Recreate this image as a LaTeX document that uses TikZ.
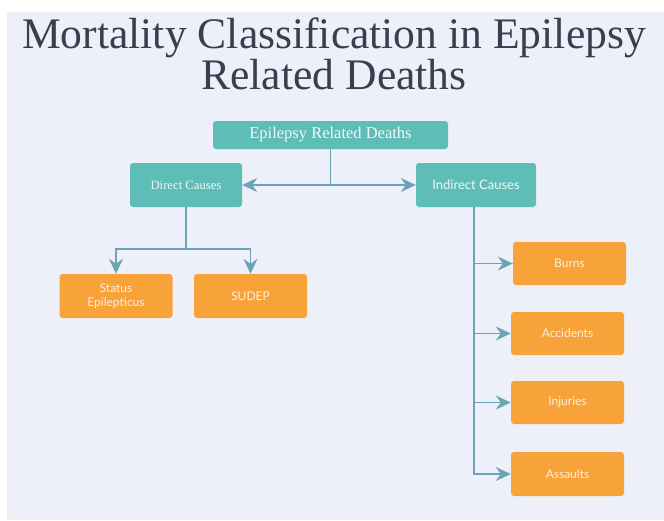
\documentclass[tikz,border=0pt]{standalone}
\usepackage{fontspec}
\setmainfont{Liberation Serif}
\newfontfamily\boxfont{Lato}
\usetikzlibrary{arrows.meta}

\definecolor{panelbg}{HTML}{EDF0F8}
\definecolor{causeteal}{HTML}{5FBDB7}
\definecolor{leaforange}{HTML}{F8A23A}
\definecolor{linkblue}{HTML}{6AA5B6}
\definecolor{titlegray}{HTML}{3B3E4F}

\tikzset{
  causebox/.style={fill=causeteal, rounded corners=3pt, text=white!90!causeteal,
    inner sep=0pt, align=center},
  leafbox/.style={fill=leaforange, rounded corners=3pt, text=white!82!leaforange,
    minimum width=113pt, minimum height=44pt, inner sep=0pt, align=center,
    font=\boxfont\fontsize{12}{14}\selectfont},
  link/.style={linkblue, line width=1.6pt},
  linkarrow/.style={link, -{Stealth[length=15pt, width=14pt, inset=5pt]}}
}

\begin{document}
\begin{tikzpicture}[x=1pt, y=-1pt]
  \useasboundingbox (0,0) rectangle (664,520);
  \fill[panelbg] (7,12) rectangle (664,520);

  % Title
  \node[titlegray, anchor=north, inner sep=0pt, align=center,
        font=\fontsize{43.6}{35}\selectfont] (title) at (334,18)
        {Mortality Classification in Epilepsy\\Related Deaths};

  % Top level
  \node[causebox, minimum width=235pt, minimum height=28pt,
        font=\fontsize{16.5}{18}\selectfont] (deaths) at (330.5,135) {Epilepsy Related Deaths};
  \node[causebox, minimum width=112pt, minimum height=44pt,
        font=\fontsize{12.7}{14}\selectfont] (direct) at (186,185) {Direct Causes};
  \node[causebox, minimum width=120pt, minimum height=44pt,
        font=\boxfont\fontsize{13}{15}\selectfont] (indirect) at (476,185) {Indirect Causes};

  % Direct causes
  \node[leafbox] (status) at (116,296) {Status\\Epilepticus};
  \node[leafbox] (sudep) at (250.5,296) {SUDEP};

  % Indirect causes
  \node[leafbox, minimum height=43pt] (burns) at (569.5,263.5) {Burns};
  \node[leafbox, minimum height=43pt] (accidents) at (567.5,333.5) {Accidents};
  \node[leafbox, minimum height=43pt] (injuries) at (567.5,402.5) {Injuries};
  \node[leafbox] (assaults) at (567.5,474) {Assaults};

  % Connectors
  \coordinate (split) at (deaths.south |- direct.east);
  \draw[link] (deaths.south) -- (split);
  \draw[linkarrow] (split) -- (direct.east);
  \draw[linkarrow] (split) -- (indirect.west);

  \coordinate (fork) at (186,249);
  \draw[link] (direct.south) -- (fork);
  \draw[linkarrow] (fork) -| (status.north);
  \draw[linkarrow] (fork) -| (sudep.north);

  \coordinate (trunk) at (474,207);
  \draw[linkarrow] (trunk) |- (burns.west);
  \draw[linkarrow] (trunk) |- (accidents.west);
  \draw[linkarrow] (trunk) |- (injuries.west);
  \draw[linkarrow] (trunk) |- (assaults.west);
\end{tikzpicture}
\end{document}
